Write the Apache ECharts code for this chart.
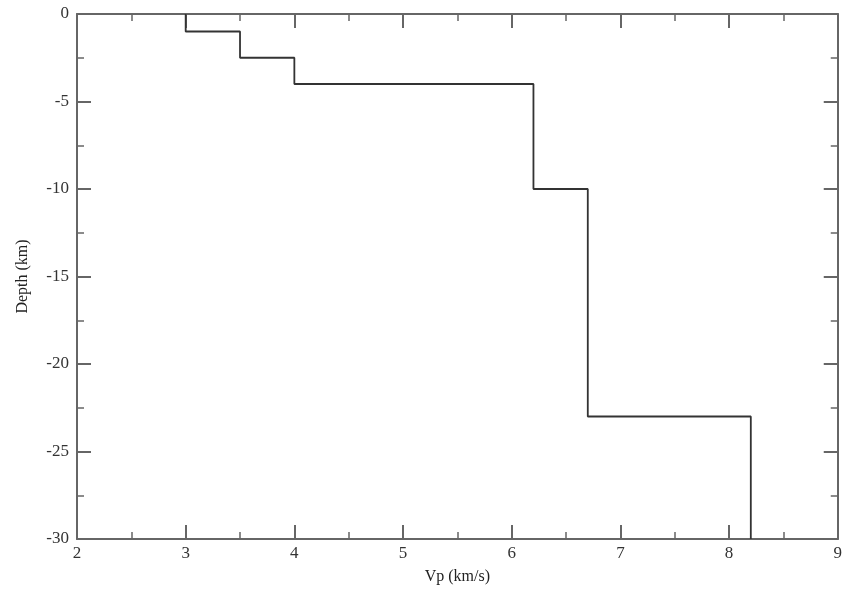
<!DOCTYPE html>
<html>
<head>
<meta charset="utf-8">
<script src="https://cdn.jsdelivr.net/npm/echarts@6/dist/echarts.min.js"></script>
<style>html,body{margin:0;padding:0;background:#fff;overflow:hidden}#c{width:845px;height:594px}</style>
</head>
<body>
<div id="c"></div>
<script>
// Layer velocities (km/s) and top depths (km)
var layerVp = [3, 3.5, 4, 6.2, 6.7, 8.2];
var layerTop = [0, -1, -2.5, -4, -10, -23];
var bottomDepth = -30;
var xTicks = [2, 3, 4, 5, 6, 7, 8, 9];
var yTicks = [0, -5, -10, -15, -20, -25, -30];

var pts = [];
for (var i = 0; i < layerVp.length; i++) {
  var bot = i + 1 < layerTop.length ? layerTop[i + 1] : bottomDepth;
  pts.push([layerVp[i], layerTop[i]]);
  pts.push([layerVp[i], bot]);
}

var font = '"Liberation Serif", "DejaVu Serif", serif';
var axisColor = '#666';
function xAxisCfg(pos, labels) {
  return {
    type: 'value', position: pos, min: xTicks[0], max: xTicks[xTicks.length - 1], interval: 1,
    name: labels ? 'Vp (km/s)' : '', nameLocation: 'middle', nameGap: 30,
    nameTextStyle: {fontFamily: font, fontSize: 16, color: '#222'},
    axisLine: {show: true, onZero: false, lineStyle: {color: axisColor, width: 2}},
    axisTick: {show: true, inside: true, length: 14, lineStyle: {color: axisColor, width: 2}},
    minorTick: {show: true, splitNumber: 2, length: 7, lineStyle: {color: axisColor, width: 1.5}},
    axisLabel: {show: labels, fontFamily: font, fontSize: 17, color: '#333', margin: 6},
    splitLine: {show: false}
  };
}
function yAxisCfg(pos, labels) {
  return {
    type: 'value', position: pos, min: yTicks[yTicks.length - 1], max: yTicks[0], interval: 5,
    name: labels ? 'Depth (km)' : '', nameLocation: 'middle', nameGap: 46, nameRotate: 90,
    nameTextStyle: {fontFamily: font, fontSize: 16, color: '#222'},
    axisLine: {show: true, onZero: false, lineStyle: {color: axisColor, width: 2}},
    axisTick: {show: true, inside: true, length: 14, lineStyle: {color: axisColor, width: 2}},
    minorTick: {show: true, splitNumber: 2, length: 7, lineStyle: {color: axisColor, width: 1.5}},
    axisLabel: {show: labels, fontFamily: font, fontSize: 17, color: '#333', margin: 8},
    splitLine: {show: false}
  };
}

var chart = echarts.init(document.getElementById('c'), null, {renderer: 'canvas', width: 845, height: 594});
chart.setOption({
  animation: false,
  backgroundColor: '#fff',
  grid: {left: 77, right: 4, top: 14, bottom: 55, containLabel: false},
  xAxis: [xAxisCfg('bottom', true), xAxisCfg('top', false)],
  yAxis: [yAxisCfg('left', true), yAxisCfg('right', false)],
  series: [{
    type: 'line', data: pts, xAxisIndex: 0, yAxisIndex: 0,
    showSymbol: false, symbol: 'none',
    lineStyle: {color: '#333', width: 1.8}
  }]
});
</script>
</body>
</html>
